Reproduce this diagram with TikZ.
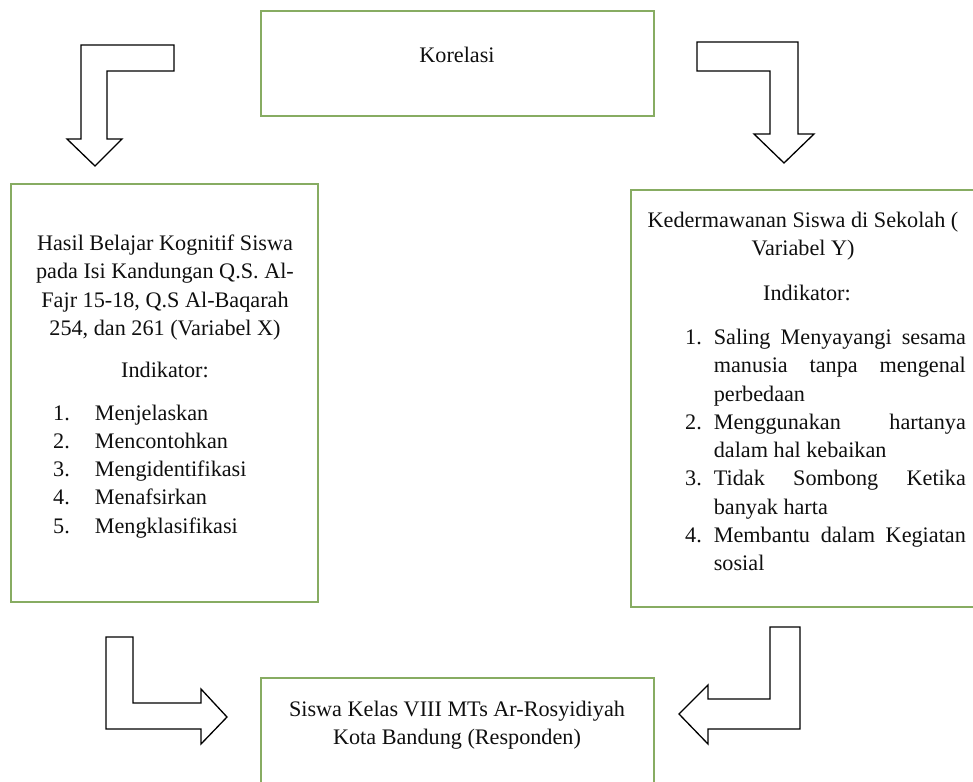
\documentclass[tikz,border=0pt]{standalone}
\usepackage{fontspec}
\setmainfont{Liberation Serif}
\usetikzlibrary{positioning}
\definecolor{boxLineColor}{RGB}{135,172,98}
\definecolor{boxTextColor}{RGB}{15,15,15}
\tikzset{
	box/.style = {
		draw = boxLineColor, line width = 2pt, rectangle, inner sep = 0pt
	},
	boxText/.style = {
		text = boxTextColor, inner sep = 0pt, align = center,
		font = \fontsize{22.2}{28.3}\selectfont
	},
	blockArrow/.style = {
		draw = black, line width = 1.3pt, fill = white, line join = miter
	}
}

\begin{document}
\begin{tikzpicture}[x=1pt, y=-1pt]
	\useasboundingbox (0,0) rectangle (973,781);
	\clip (0,0) rectangle (973,781);

	% boxes
	\node [box, minimum width=393pt, minimum height=105pt] (korelasi) at (457.5,63.5) {};
	\node [box, minimum width=307pt, minimum height=418pt] (varX) at (164.5,393) {};
	\node [box, minimum width=352pt, minimum height=417pt] (varY) at (807,398.5) {};
	\node [box, minimum width=393pt, minimum height=130pt] (responden) at (457.5,743) {};

	% texts
	\node [boxText] (korelasiText) at (457,55) {Korelasi};

	\node [boxText] (varXHead) at (165,287.5) {Hasil Belajar Kognitif Siswa\\pada Isi Kandungan Q.S. Al-\\Fajr 15-18, Q.S Al-Baqarah\\254, dan 261 (Variabel X)};
	\node [boxText] (varXInd) at (165,370) {Indikator:};
	\node [boxText, anchor=west] (varXList) at (53,471) {%
		\begin{tabular}{@{}r@{\hspace{25pt}}l@{}}
			1. & Menjelaskan\\
			2. & Mencontohkan\\
			3. & Mengidentifikasi\\
			4. & Menafsirkan\\
			5. & Mengklasifikasi
		\end{tabular}};

	\node [boxText] (varYHead) at (803,236) {Kedermawanan Siswa di Sekolah (\\Variabel Y)};
	\node [boxText] (varYInd) at (807,293) {Indikator:};
	\node [boxText, anchor=west] (varYList) at (685,452) {%
		\begin{tabular}{@{}r@{\hspace{12pt}}l@{}}
			1. & \makebox[252pt][s]{Saling Menyayangi sesama}\\
			   & \makebox[252pt][s]{manusia tanpa mengenal}\\
			   & perbedaan\\
			2. & \makebox[252pt][s]{Menggunakan hartanya}\\
			   & dalam hal kebaikan\\
			3. & \makebox[252pt][s]{Tidak Sombong Ketika}\\
			   & banyak harta\\
			4. & \makebox[252pt][s]{Membantu dalam Kegiatan}\\
			   & sosial
		\end{tabular}};

	\node [boxText] (respondenText) at (457,725) {Siswa Kelas VIII MTs Ar-Rosyidiyah\\Kota Bandung (Responden)};

	% block arrows
	\draw [blockArrow] (174,45) -- (81,45) -- (81,139) -- (67,139) -- (95,166)
		-- (122,139) -- (107,139) -- (107,71) -- (174,71) -- cycle;
	\draw [blockArrow] (697,42) -- (798,42) -- (798,134) -- (814,134) -- (784,163)
		-- (754,134) -- (770,134) -- (770,71) -- (697,71) -- cycle;
	\draw [blockArrow] (106,637) -- (133,637) -- (133,703) -- (201,703) -- (201,689)
		-- (227,717) -- (201,744) -- (201,729) -- (106,729) -- cycle;
	\draw [blockArrow] (800,627) -- (800,729) -- (708,729) -- (708,744) -- (679,714)
		-- (708,685) -- (708,699) -- (770,699) -- (770,627) -- cycle;
\end{tikzpicture}
\end{document}
